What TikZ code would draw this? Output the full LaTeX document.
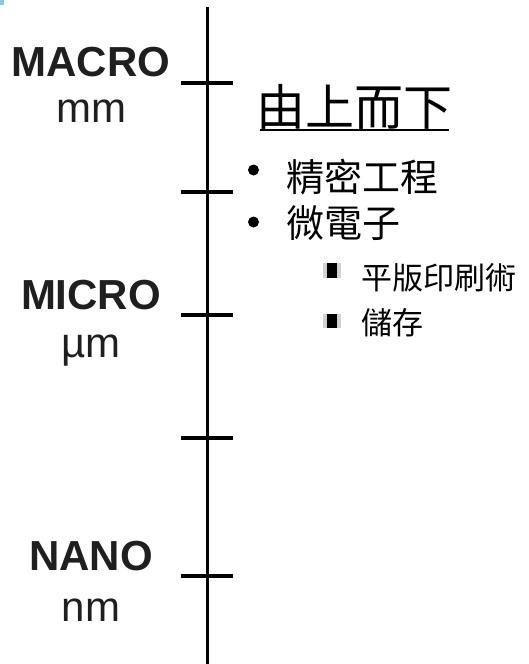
\documentclass[tikz,border=0pt]{standalone}
\usepackage{fontspec}
\setmainfont{Liberation Sans}
\newfontfamily\cjkfont{Noto Sans CJK TC}
\begin{document}
\begin{tikzpicture}[x=1pt,y=-1pt,
  scalelabel/.style={font=\fontsize{42}{42}\selectfont\bfseries, anchor=base, inner sep=0, text=black!88},
  unitlabel/.style={font=\fontsize{42}{42}\selectfont, anchor=base, inner sep=0, text=black!88},
  titletext/.style={font=\fontsize{49}{49}\selectfont\cjkfont, anchor=base west, inner sep=0},
  itemone/.style={font=\fontsize{38}{38}\selectfont\cjkfont, anchor=base west, inner sep=0},
  itemtwo/.style={font=\fontsize{31}{31}\selectfont\cjkfont, anchor=base west, inner sep=0},
  axisline/.style={line width=3pt},
  ticmark/.style={line width=3.2pt},
  dotbullet/.style={fill=black},
  sqshade/.style={fill=black!18},
  sqcore/.style={fill=black}]
\useasboundingbox (0,0) rectangle (528,664);
\fill[fill={rgb,255:red,140;green,200;blue,224}] (0,0) rectangle (4,5);
% axis
\coordinate (axtop) at (207,7);
\coordinate (axbot) at (207,664);
\draw[axisline] (axtop) -- (axbot);
\foreach \yy/\nm in {83/ta,192/tb,315/tc,438/td,576/te}{
  \coordinate (\nm l) at (181,\yy);
  \coordinate (\nm r) at (233,\yy);
  \draw[ticmark] (\nm l) -- (\nm r);
}
% left labels
\node[scalelabel] (macro) at (91,76) {MACRO};
\node[unitlabel] (mm) at (91,122) {mm};
\node[scalelabel] (micro) at (91,309) {MICRO};
\node[unitlabel] (um) at (91,357) {µm};
\node[scalelabel] (nano) at (91,570) {NANO};
\node[unitlabel] (nm) at (91,621) {nm};
% right text
\node[titletext] (title) at (256,125) {由上而下};
\coordinate (ulA) at (260,130);
\coordinate (ulB) at (449,130);
\draw[line width=2pt] (ulA) -- (ulB);
\fill[dotbullet] (253.5,170) circle[radius=5.5pt];
\node[itemone] (precise) at (286,191) {精密工程};
\fill[dotbullet] (253.5,222) circle[radius=5.5pt];
\node[itemone] (micro2) at (286,237) {微電子};
\fill[sqshade] (323,263) rectangle (341,278);
\fill[sqcore] (327,263) rectangle (337,278);
\node[itemtwo] (litho) at (361,289) {平版印刷術};
\fill[sqshade] (323,314) rectangle (341,328);
\fill[sqcore] (327,314) rectangle (337,328);
\node[itemtwo] (store) at (361,334) {儲存};
\end{tikzpicture}
\end{document}
